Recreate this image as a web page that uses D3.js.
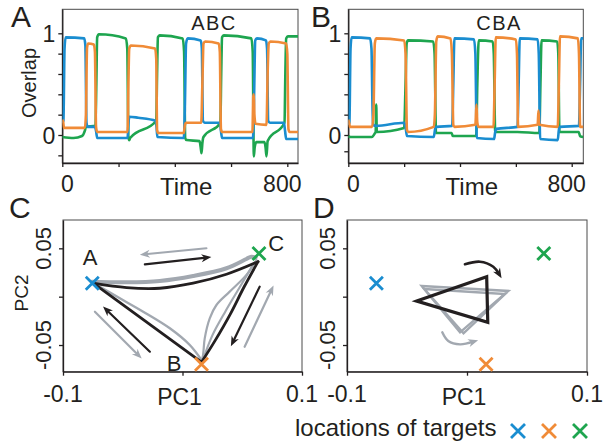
<!DOCTYPE html>
<html>
<head>
<meta charset="utf-8">
<script src="https://cdn.jsdelivr.net/npm/d3@7"></script>
<style>
  body { margin: 0; background: #fff; }
  svg { display: block; font-family: "Liberation Sans", Arial, sans-serif; }
</style>
</head>
<body>
<svg id="fig" width="610" height="447"></svg>
<script>
// ---- data ----
var timeTicks = [0, 200, 400, 600, 800];
var timeLabels = [0, 800];
var overlapTicksA = [-0.2, 0, 0.2, 0.4, 0.6, 0.8, 1];
var overlapTicksB = [-0.16, 0, 0.2, 0.4, 0.6, 0.8, 1];
var overlapLabels = [0, 1];

// panel A : sequence ABC  [time, overlap]
var abcBlue = [[0,0.12],[4,0.14],[8,0.85],[12,0.96],[78,0.95],[82,0.88],[86,0.12],[90,0.08],[116,0.08],[120,0.04],[124,-0.03],
  [232,-0.03],[235,0.1],[238,0.18],[270,0.17],[332,0.14],[335,0.08],[338,-0.02],[432,-0.03],[436,0.3],[440,0.9],[446,0.95],
  [492,0.93],[496,0.86],[500,0.14],[506,0.12],[560,0.12],[564,0.04],[568,-0.03],[678,-0.03],[682,0.4],[686,0.93],[692,0.95],
  [724,0.93],[728,0.85],[732,0.14],[738,0.12],[788,0.12],[792,0.04],[796,-0.04],[838,-0.04]];
var abcOrange = [[0,0.15],[3,0.13],[6,0.07],[80,0.07],[84,0.2],[88,0.86],[92,0.9],[112,0.89],[116,0.82],[120,0.08],[124,0.03],
  [232,0.03],[235,0.5],[238,0.85],[244,0.88],[330,0.85],[334,0.75],[337,0.05],[341,0.02],[432,0.02],[436,0.1],[440,0.12],
  [494,0.12],[498,0.5],[502,0.9],[508,0.92],[556,0.9],[560,0.82],[564,0.06],[568,0.03],[676,0.03],[679,0.38],[681,0.4],
  [683,0.2],[687,0.11],[726,0.1],[730,0.6],[734,0.9],[740,0.92],[796,0.9],[800,0.8],[804,0.06],[808,0.03],[838,0.03]];
var abcGreen = [[0,-0.02],[40,-0.03],[70,-0.01],[80,0.04],[84,0.08],[118,0.09],[121,0.5],[124,0.96],[130,0.99],[226,0.95],
  [231,0.85],[235,-0.02],[238,-0.05],[241,-0.03],[334,0.14],[337,0.6],[340,0.96],[346,0.98],[428,0.95],[433,0.82],[437,-0.03],
  [442,-0.05],[488,-0.06],[492,-0.12],[495,-0.18],[498,-0.08],[502,-0.02],[562,0.12],[565,0.6],[568,0.96],[574,0.98],[672,0.95],
  [677,0.82],[681,-0.21],[684,-0.12],[690,-0.07],[719,-0.07],[723,-0.13],[726,-0.21],[730,-0.06],[790,0.12],[793,0.6],
  [796,0.95],[802,0.97],[838,0.97]];

// panel B : sequence CBA
var cbaBlue = [[0,0.1],[4,0.12],[8,0.85],[12,0.96],[78,0.95],[83,0.85],[88,0.1],[100,0.09],[200,0.12],[205,0.08],[210,-0.01],
  [306,-0.02],[311,0.06],[316,0.08],[372,0.09],[376,0.5],[380,0.95],[450,0.94],[455,0.8],[460,-0.03],[522,-0.04],[526,0.03],
  [530,0.06],[606,0.08],[610,0.5],[614,0.95],[678,0.94],[682,0.8],[687,-0.04],[750,-0.05],[754,0.05],[758,0.08],[826,0.09],
  [830,0.5],[834,0.95],[842,0.95]];
var cbaOrange = [[0,0.15],[3,0.12],[6,0.08],[85,0.08],[90,0.2],[95,0.9],[100,0.95],[200,0.93],[205,0.8],[210,0.05],[214,0.03],
  [306,0.08],[310,0.2],[315,0.92],[320,0.97],[366,0.95],[371,0.8],[376,0.1],[380,0.08],[455,0.1],[459,0.3],[462,0.12],
  [466,0.08],[520,0.08],[524,0.5],[528,0.96],[600,0.94],[604,0.8],[608,0.08],[678,0.1],[681,0.24],[684,0.1],[750,0.08],
  [754,0.5],[758,0.97],[822,0.95],[826,0.8],[830,0.08],[842,0.08]];
var cbaGreen = [[0,-0.01],[8,-0.02],[84,-0.02],[96,0.02],[98,0.03],[100,0.3],[102,0.03],[200,0.07],[205,0.5],[209,0.9],
  [214,0.93],[304,0.92],[309,0.8],[314,0.02],[370,0.02],[374,-0.01],[458,-0.01],[462,0.5],[467,0.93],[517,0.92],[521,0.8],
  [526,0.03],[606,0.03],[684,0.02],[688,0.5],[692,0.93],[748,0.92],[752,0.8],[756,0.03],[825,0.03],[830,-0.01],[842,-0.02]];

// panels C, D : principal components
var pcTicksX = [-0.1, 0, 0.1];
var pcTicksY = [-0.05, 0, 0.05];
var pcLabelsX = [-0.1, 0.1];
var pcLabelsY = [-0.05, 0.05];
var targetNames = ['A', 'B', 'C'];
var targets = [[-0.0755, 0.0139], [0.0159, -0.0700], [0.0640, 0.0447]];
var targetLabelPos = [[-0.0774, 0.0328], [-0.0070, -0.0769], [0.0785, 0.0473]];

var cBlackAC = [[-0.0747,0.0139],[-0.0468,0.0093],[-0.019,0.0087],[0.0089,0.0139],[0.0368,0.0232],[0.0632,0.0362]];
var cBlackCB = [[0.0632,0.0362],[0.0515,0.0100],[0.0400,-0.0180],[0.0270,-0.0460],[0.0159,-0.0678]];
var cBlackBA = [[0.0159,-0.0678],[-0.0747,0.0139]];
var cGrayAC = [[-0.0760,0.0155],[-0.0468,0.0149],[-0.0190,0.0163],[0.0089,0.0214],[0.0368,0.0294],[0.0535,0.0390],[0.0576,0.0414],[0.0612,0.0404]];
var cGrayCB1 = [[0.0618,0.0380],[0.0535,0.0225],[0.0395,0.0052],[0.0284,-0.0086],[0.0228,-0.0224],[0.0186,-0.0431],[0.0172,-0.0603],[0.0159,-0.0673]];
var cGrayCB2 = [[0.0600,0.0350],[0.0480,0.0100],[0.0360,-0.0150],[0.0250,-0.0400],[0.0175,-0.0640]];
var cGrayBA = [[0.0159,-0.0655],[0.0061,-0.0500],[-0.0106,-0.0327],[-0.0329,-0.0155],[-0.0524,-0.0017],[-0.0718,0.0121]];
var cArrowsBlack = [[[-0.0315,0.0335],[0.0200,0.0404]], [[-0.0273,-0.0569],[-0.0635,-0.0138]], [[0.0646,0.0104],[0.0423,-0.0466]]];
var cArrowsGray = [[[0.0200,0.0501],[-0.0315,0.0439]], [[-0.0733,-0.0155],[-0.0371,-0.0604]], [[0.0520,-0.0518],[0.0744,0.0069]]];

var dBlack = [[-0.0419,-0.0045],[0.0164,0.0207],[0.0173,-0.0265]];
var dGray1 = [[-0.0378,0.0111],[0.0344,0.0059],[-0.0058,-0.0369]];
var dGray2 = [[-0.0356,0.0080],[0.0317,0.0028],[-0.0029,-0.0379]];
var dArcBlack = [[-0.0017,0.0335],[0.0108,0.0362],[0.0219,0.0310],[0.0267,0.0235]];
var dArcGray = [[-0.0206,-0.0369],[-0.0156,-0.0459],[-0.0058,-0.0493],[0.0053,-0.0466]];

// ---- style ----
var ink = '#231f20';
var blue = '#1a8dd0', orange = '#f08b37', green = '#1ea54f', gray = '#a2a8b0';
var targetColors = [blue, orange, green];

var svg = d3.select('#fig');
svg.append('rect').attr('width', 610).attr('height', 447).attr('fill', '#fff');

var defs = svg.append('defs');
[['arrK', ink], ['arrG', gray]].forEach(function (m) {
  defs.append('marker').attr('id', m[0])
    .attr('viewBox', '-10 -5 12 10').attr('refX', -4).attr('refY', 0)
    .attr('markerWidth', 12).attr('markerHeight', 10)
    .attr('markerUnits', 'userSpaceOnUse').attr('orient', 'auto')
    .append('path').attr('d', 'M1,0 L-9,-4 L-6,0 L-9,4 Z').attr('fill', m[1]);
});

function text(x, y, s, size, anchor, rot) {
  var t = svg.append('text').attr('x', x).attr('y', y).text(s)
    .attr('font-size', size).attr('fill', ink).attr('text-anchor', anchor || 'start');
  if (rot) t.attr('transform', 'rotate(' + rot + ',' + x + ',' + y + ')');
  return t;
}

function frame(x0, y0, x1, y1) {
  svg.append('rect').attr('x', x0).attr('y', y0).attr('width', x1 - x0).attr('height', y1 - y0)
    .attr('fill', 'none').attr('stroke', '#4a4a4a').attr('stroke-width', 1);
}

function styleAxis(g) {
  g.select('.domain').attr('stroke', ink).attr('stroke-width', 1.3);
  g.selectAll('.tick line').attr('stroke', ink).attr('stroke-width', 1.3);
}

function timePanel(o) {
  var x = d3.scaleLinear().domain([0, o.tMax]).range([o.x0, o.x1]);
  var y = d3.scaleLinear().domain([-0.2753, 1.236]).range([o.y1, o.y0]);
  frame(o.x0, o.y0, o.x1, o.y1);
  svg.append('g').attr('transform', 'translate(0,' + o.y1 + ')')
    .call(d3.axisBottom(x).tickValues(timeTicks).tickSize(4).tickSizeOuter(0).tickFormat(''))
    .call(styleAxis);
  svg.append('g').attr('transform', 'translate(' + o.x0 + ',0)')
    .call(d3.axisLeft(y).tickValues(o.yTicks).tickSize(4).tickSizeOuter(0).tickFormat(''))
    .call(styleAxis);

  var clipId = 'clip' + o.id;
  defs.append('clipPath').attr('id', clipId).append('rect')
    .attr('x', o.x0).attr('y', o.y0).attr('width', o.x1 - o.x0).attr('height', o.y1 - o.y0);
  var line = d3.line().x(function (d) { return x(d[0]); }).y(function (d) { return y(d[1]); })
    .curve(d3.curveMonotoneX);
  var g = svg.append('g').attr('clip-path', 'url(#' + clipId + ')');
  o.series.forEach(function (s) {
    g.append('path').attr('d', line(s[0])).attr('fill', 'none').attr('stroke', s[1])
      .attr('stroke-width', 2.6).attr('stroke-linejoin', 'round');
  });

  overlapLabels.forEach(function (v) {
    text(o.x0 - 7, y(v) + 8.5, String(v), 23, 'end');
  });
  timeLabels.forEach(function (t, i) {
    text(x(t) + (i === 0 ? 5 : -5), 192, String(t), 23, 'middle');
  });
  text((o.x0 + o.x1) / 2 + 6, 195, 'Time', 24, 'middle');
  text(o.titleX, 30, o.title, 20, 'middle').attr('letter-spacing', 1.5);
  text(o.letterX, 27, o.letter, 30, 'start');
}

timePanel({ id: 'A', letter: 'A', letterX: 11, title: 'ABC', titleX: 214,
  x0: 62.3, x1: 298, y0: 9.3, y1: 163, tMax: 838, yTicks: overlapTicksA,
  series: [[abcGreen, green], [abcBlue, blue], [abcOrange, orange]] });
timePanel({ id: 'B', letter: 'B', letterX: 311, title: 'CBA', titleX: 499,
  x0: 348.3, x1: 583.3, y0: 9.3, y1: 163, tMax: 841.5, yTicks: overlapTicksB,
  series: [[cbaGreen, green], [cbaBlue, blue], [cbaOrange, orange]] });

text(36, 83, 'Overlap', 20, 'middle', -90);

function pcPanel(o) {
  var x = d3.scaleLinear().domain([-0.1, 0.1]).range([o.x0, o.x1]);
  var y = d3.scaleLinear().domain([-0.0776, 0.0793]).range([o.y1, o.y0]);
  frame(o.x0, o.y0, o.x1, o.y1);
  svg.append('g').attr('transform', 'translate(0,' + o.y1 + ')')
    .call(d3.axisBottom(x).tickValues(pcTicksX).tickSize(4).tickSizeOuter(0).tickFormat(''))
    .call(styleAxis);
  svg.append('g').attr('transform', 'translate(' + o.x0 + ',0)')
    .call(d3.axisLeft(y).tickValues(pcTicksY).tickSize(4).tickSizeOuter(0).tickFormat(''))
    .call(styleAxis);

  pcLabelsX.forEach(function (v) {
    text(x(v), 402, String(v), 23, 'middle');
  });
  pcLabelsY.forEach(function (v) {
    text(o.x0 - 12, y(v), String(v), 22, 'middle', -90);
  });
  text((o.x0 + o.x1) / 2 - 3, 405, 'PC1', 23, 'middle');
  text(o.letterX, 218, o.letter, 30, 'start');

  var g = svg.append('g');
  var smooth = d3.line().x(function (d) { return x(d[0]); }).y(function (d) { return y(d[1]); })
    .curve(d3.curveCatmullRom.alpha(0.5));
  var closed = d3.line().x(function (d) { return x(d[0]); }).y(function (d) { return y(d[1]); })
    .curve(d3.curveLinearClosed);

  function draw(d, gen, col, w, marker) {
    var p = g.append('path').attr('d', gen(d)).attr('fill', 'none').attr('stroke', col)
      .attr('stroke-width', w).attr('stroke-linejoin', 'miter').attr('stroke-linecap', 'round');
    if (marker) p.attr('marker-end', 'url(#' + marker + ')');
    return p;
  }
  o.draw(draw, smooth, closed);

  // target locations
  var arm = 6.5;
  targets.forEach(function (t, i) {
    var cx = x(t[0]), cy = y(t[1]);
    g.append('path')
      .attr('d', 'M' + (cx - arm) + ',' + (cy - arm) + 'L' + (cx + arm) + ',' + (cy + arm) +
                 'M' + (cx - arm) + ',' + (cy + arm) + 'L' + (cx + arm) + ',' + (cy - arm))
      .attr('stroke', targetColors[i]).attr('stroke-width', 2.8).attr('fill', 'none');
  });
  if (o.names) {
    targetLabelPos.forEach(function (p, i) {
      text(x(p[0]), y(p[1]), targetNames[i], 22, 'middle');
    });
  }
}

pcPanel({ letter: 'C', letterX: 9, x0: 63, x1: 302, y0: 220, y1: 371.7, names: true,
  draw: function (draw, smooth, closed) {
    draw(cGrayBA, smooth, gray, 2.4);
    draw(cGrayCB1, smooth, gray, 2.2);
    draw(cGrayCB2, smooth, gray, 2.2);
    draw(cGrayAC, smooth, gray, 4);
    draw(cBlackAC, smooth, ink, 2.8);
    draw(cBlackCB, smooth, ink, 2.8);
    draw(cBlackBA, smooth, ink, 2.8);
    cArrowsGray.forEach(function (a) { draw(a, smooth, gray, 2.2, 'arrG'); });
    cArrowsBlack.forEach(function (a) { draw(a, smooth, ink, 2.2, 'arrK'); });
  } });

pcPanel({ letter: 'D', letterX: 313, x0: 347, x1: 587, y0: 220, y1: 371.7, names: false,
  draw: function (draw, smooth, closed) {
    draw(dGray1, closed, gray, 2.4);
    draw(dGray2, closed, gray, 2.4);
    draw(dBlack, closed, ink, 3.2);
    draw(dArcBlack, smooth, ink, 2.6, 'arrK');
    draw(dArcGray, smooth, gray, 2.4, 'arrG');
  } });

text(28, 293, 'PC2', 19, 'middle', -90);

// legend
text(295, 436, 'locations of targets', 24, 'start');
var legArm = 7;
targetColors.forEach(function (c, i) {
  var cx = 518 + i * 31, cy = 431;
  svg.append('path')
    .attr('d', 'M' + (cx - legArm) + ',' + (cy - legArm) + 'L' + (cx + legArm) + ',' + (cy + legArm) +
               'M' + (cx - legArm) + ',' + (cy + legArm) + 'L' + (cx + legArm) + ',' + (cy - legArm))
    .attr('stroke', c).attr('stroke-width', 2.8).attr('fill', 'none');
});
</script>
</body>
</html>
